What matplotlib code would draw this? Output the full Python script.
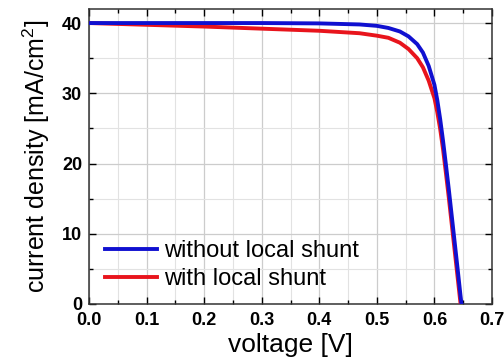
import matplotlib
matplotlib.use("Agg")
import matplotlib.pyplot as plt
from matplotlib.ticker import MultipleLocator, FormatStrFormatter

plt.rcParams['font.family'] = ['Liberation Sans', 'DejaVu Sans']
plt.rcParams['mathtext.default'] = 'regular'

# without local shunt (blue)
v_blue = [0.0, 0.1, 0.2, 0.3, 0.4, 0.47, 0.5, 0.52, 0.54, 0.555, 0.57, 0.58,
          0.59, 0.6, 0.605, 0.61, 0.615, 0.62, 0.625, 0.63, 0.635, 0.64,
          0.645, 0.647]
j_blue = [40.0, 40.0, 40.0, 40.0, 39.95, 39.8, 39.6, 39.3, 38.8, 38.1, 37.0,
          35.8, 33.9, 31.2, 29.0, 26.3, 23.2, 19.8, 16.3, 12.6, 8.9, 5.2,
          1.4, 0.0]

# with local shunt (red)
v_red = [0.0, 0.1, 0.2, 0.3, 0.4, 0.47, 0.5, 0.52, 0.54, 0.555, 0.57, 0.58,
         0.59, 0.6, 0.605, 0.61, 0.615, 0.62, 0.625, 0.63, 0.635, 0.64,
         0.645, 0.6455]
j_red = [40.0, 39.75, 39.5, 39.2, 38.9, 38.55, 38.2, 37.9, 37.2, 36.3, 35.0,
         33.7, 31.8, 29.3, 27.3, 24.9, 22.0, 18.6, 15.1, 11.4, 7.7, 4.0,
         0.3, 0.0]

fig = plt.figure(figsize=(5.04, 3.6), dpi=100)
ax = fig.add_axes([0.1766, 0.1556, 0.7996, 0.8194])

ax.plot(v_red, j_red, color='#e8141c', lw=2.8, label='with local shunt', zorder=3)
ax.plot(v_blue, j_blue, color='#1010d0', lw=2.8, label='without local shunt', zorder=4)

ax.set_xlim(0, 0.7)
ax.set_ylim(0, 42)
ax.xaxis.set_major_locator(MultipleLocator(0.1))
ax.xaxis.set_minor_locator(MultipleLocator(0.05))
ax.yaxis.set_major_locator(MultipleLocator(10))
ax.yaxis.set_minor_locator(MultipleLocator(5))
ax.xaxis.set_major_formatter(FormatStrFormatter('%.1f'))

ax.grid(which='major', color='#cccccc', lw=0.9)
ax.grid(which='minor', color='#e2e2e2', lw=0.8)
ax.set_axisbelow(True)

ax.tick_params(which='both', direction='in', top=True, right=True, width=1)
ax.tick_params(which='major', length=5, labelsize=13)
ax.tick_params(axis='x', which='major', pad=6)
ax.tick_params(axis='y', which='major', pad=5)
ax.tick_params(which='minor', length=3)
for lab in ax.get_xticklabels() + ax.get_yticklabels():
    lab.set_fontweight('bold')
for s in ax.spines.values():
    s.set_linewidth(1.1)
    s.set_color('#333333')

ax.set_xlabel('voltage [V]', fontsize=19, labelpad=3)
ax.set_ylabel('current density [mA/cm$^2$]', fontsize=18, labelpad=7)

h, l = ax.get_legend_handles_labels()
ax.legend(h[::-1], l[::-1], loc='lower left', frameon=False, fontsize=17,
          handlelength=2.2, handletextpad=0.3, labelspacing=0.25,
          borderaxespad=0.2, bbox_to_anchor=(0.005, 0.0))

fig.savefig('out.png', dpi=100)
